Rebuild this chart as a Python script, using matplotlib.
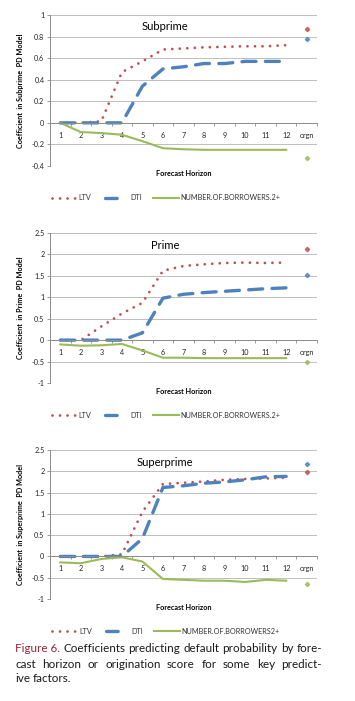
import matplotlib
matplotlib.use("Agg")
import matplotlib.pyplot as plt
import numpy as np
from matplotlib.lines import Line2D

plt.rcParams["font.family"] = ["Lato", "DejaVu Sans"]
plt.rcParams["axes.unicode_minus"] = False

horizons = ["1", "2", "3", "4", "5", "6", "7", "8", "9", "10", "11", "12", "orgn"]

sub_ltv = [0, 0, 0.015, 0.47, 0.57, 0.68, 0.69, 0.70, 0.705, 0.71, 0.71, 0.72]
sub_dti = [0, 0, 0, 0, 0.34, 0.50, 0.52, 0.55, 0.55, 0.57, 0.57, 0.57]
sub_nob = [0, -0.085, -0.095, -0.11, -0.17, -0.235, -0.245, -0.25, -0.25, -0.25, -0.25, -0.25]
sub_orgn = [0.87, 0.775, -0.33]

prime_ltv = [0, 0, 0.32, 0.62, 0.87, 1.62, 1.73, 1.77, 1.80, 1.81, 1.80, 1.81]
prime_dti = [0, 0, 0, 0, 0.17, 0.98, 1.07, 1.11, 1.14, 1.17, 1.20, 1.22]
prime_nob = [-0.10, -0.13, -0.12, -0.09, -0.24, -0.41, -0.41, -0.42, -0.42, -0.42, -0.42, -0.42]
prime_orgn = [2.13, 1.52, -0.50]

super_ltv = [0, 0, 0, 0.05, 1.05, 1.70, 1.73, 1.76, 1.80, 1.82, 1.83, 1.85]
super_dti = [0, 0, 0, 0, 0.42, 1.62, 1.66, 1.72, 1.75, 1.80, 1.87, 1.88]
super_nob = [-0.14, -0.16, -0.06, -0.02, -0.12, -0.53, -0.55, -0.57, -0.57, -0.60, -0.55, -0.57]
super_orgn = [1.98, 2.17, -0.64]

panels = [
    ("Subprime", sub_ltv, sub_dti, sub_nob, sub_orgn, (-0.4, 1.0), 0.2, "NUMBER.OF.BORROWERS.2+"),
    ("Prime", prime_ltv, prime_dti, prime_nob, prime_orgn, (-1.0, 2.5), 0.5, "NUMBER.OF.BORROWERS.2+"),
    ("Superprime", super_ltv, super_dti, super_nob, super_orgn, (-1.0, 2.5), 0.5, "NUMBER.OF.BORROWERS2+"),
]

caption = [
    ["Figure 6.", "Coefficients", "predicting", "default", "probability", "by", "fore-"],
    ["cast", "horizon", "or", "origination", "score", "for", "some", "key", "predict-"],
    ["ive", "factors."],
]

red, blue, green = "#c0504d", "#4f81bd", "#9bbb59"
grid_c = "#bfbfbf"
W, H = 355, 701

fig = plt.figure(figsize=(W / 100, H / 100), dpi=100)

# axes boxes in pixels: (top, bottom)
boxes = [(15, 166), (233, 383), (450, 599)]
left_px, right_px = 50, 317

ltv_style = dict(color=red, lw=2.0, dash_capstyle="round")
dti_style = dict(color=blue, lw=2.4, dash_capstyle="round")

x = np.arange(1, 13)
for (title, ltv, dti, nob, orgn, ylim, step, nob_label), (top, bot) in zip(panels, boxes):
    ax = fig.add_axes([left_px / W, 1 - bot / H, (right_px - left_px) / W, (bot - top) / H])
    ax.plot(x, ltv, linestyle=(0, (0.01, 2.7)), **ltv_style)
    ax.plot(x, dti, linestyle=(0, (4.2, 2.8)), **dti_style)
    ax.plot(x, nob, color=green, lw=1.5)
    for v, c in zip(orgn, [red, blue, green]):
        ax.plot([13], [v], marker="D", ms=2.2, color=c, mec=c, alpha=0.8)

    ax.set_xlim(0.5, 13.5)
    ax.set_ylim(*ylim)
    ax.set_yticks(np.arange(ylim[0], ylim[1] + step / 2, step))
    ax.yaxis.set_major_formatter(plt.FuncFormatter(lambda v, p: f"{round(v, 2):g}"))
    ax.set_xticks(np.arange(1, 14))
    ax.set_xticklabels(horizons)
    ax.set_xticks(np.arange(0.5, 14), minor=True)
    ax.tick_params(axis="x", which="major", length=0, pad=6.5, labelsize=5.2, colors="#222222")
    ax.tick_params(axis="x", which="minor", length=2.5, color="#8c8c8c", width=0.6)
    ax.tick_params(axis="y", length=2, color="#8c8c8c", width=0.6, pad=2, labelsize=5.2,
                   labelcolor="#222222")
    ax.spines["top"].set_visible(False)
    ax.spines["right"].set_visible(False)
    ax.spines["bottom"].set_position(("data", 0))
    for s in ("left", "bottom"):
        ax.spines[s].set_color("#8c8c8c")
        ax.spines[s].set_linewidth(0.7)
    ax.grid(axis="y", color=grid_c, lw=0.7)
    ax.set_axisbelow(True)

    ax.text(0.43, 0.915 if title != "Subprime" else 0.925, title, transform=ax.transAxes,
            ha="center", va="center", fontsize=8)
    ax.set_ylabel(f"Coefficient  in {title}  PD Model", fontsize=5.2, fontweight="bold")
    ax.yaxis.set_label_coords(-26 / (right_px - left_px), 0.5)
    fig.text(184 / W, 1 - (bot + 8) / H, "Forecast Horizon", ha="center", va="center",
             fontsize=5.2, fontweight="bold")

    # legend proxies: four dots, one short dash at the left, plain line
    h1 = Line2D([], [], linestyle=(0, (0.01, 2.7)), **ltv_style)
    h2 = Line2D([], [], linestyle=(22.9, (3.5, 20.0)), **dti_style)
    h3 = Line2D([], [], color=green, lw=1.5)
    fig.legend(handles=[h1, h2, h3], labels=["LTV", "DTI", nob_label], loc="center",
               bbox_to_anchor=(166 / W, 1 - (bot + 32) / H), ncol=3, frameon=False,
               fontsize=5.2, handlelength=3.6, handletextpad=0.15, columnspacing=1.6,
               labelcolor="#333333")

# justified caption, font size fitted so the first line fills the text width
renderer = fig.canvas.get_renderer()
cx0, cx1 = 15, 322
cap_family = ["Lato", "DejaVu Sans"]
probe = fig.text(0, 0, " ".join(caption[0]), fontsize=8, family=cap_family)
cap_size = 8 * (cx1 - cx0) / probe.get_window_extent(renderer).width
probe.remove()

cap_ys = [649, 664, 679]
for i, (words, yy) in enumerate(zip(caption, cap_ys)):
    texts = []
    for w in words:
        col = "#9b2335" if w == "Figure 6." else "#1a1a1a"
        t = fig.text(0, 1 - yy / H, w, fontsize=cap_size, color=col, va="center", ha="left",
                     family=cap_family)
        texts.append(t)
    widths = [t.get_window_extent(renderer).width for t in texts]
    if i < 2:
        gap = (cx1 - cx0 - sum(widths)) / (len(words) - 1)
    else:
        gap = 0.27 * cap_size * 100 / 72
    pos = cx0
    for t, wd in zip(texts, widths):
        t.set_x(pos / W)
        pos += wd + gap

fig.savefig("out.png", dpi=100)
